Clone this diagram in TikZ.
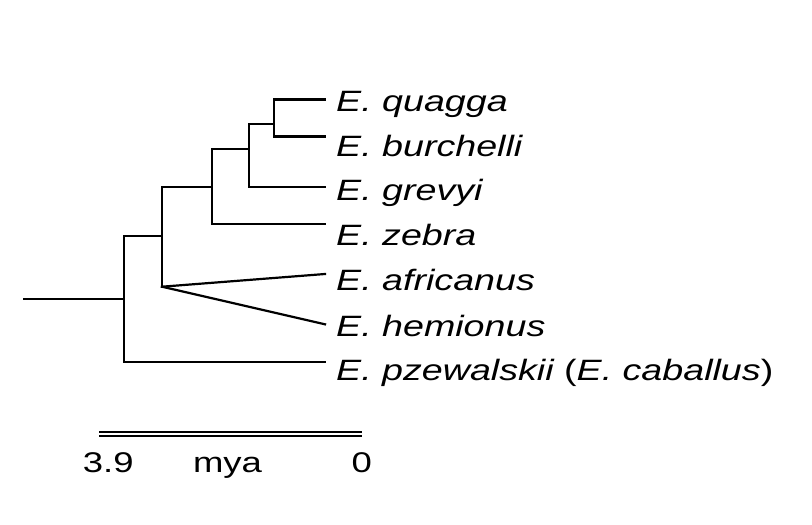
\documentclass[tikz,border=0pt]{standalone}
\usepackage{fontspec}
\setmainfont{Liberation Sans}[FakeStretch=1.28]
\begin{document}
\begin{tikzpicture}[x=1pt,y=-1pt,
  branch/.style={line width=2.2pt,line cap=rect,line join=miter},
  scalebar/.style={line width=1.8pt},
  taxon/.style={anchor=base west,inner sep=0pt,font=\fontsize{29.4}{34}\selectfont\itshape},
  scalelbl/.style={anchor=base,inner sep=0pt,font=\fontsize{28.5}{34}\selectfont}]
\useasboundingbox (0,0) rectangle (812,525);
% tree nodes
\coordinate (root) at (24,299.3);
\coordinate (n1) at (124,299.3);
\coordinate (n2) at (162,236.3);
\coordinate (apex) at (162,286.7);
\coordinate (n3) at (212,187);
\coordinate (n4) at (249,149.3);
\coordinate (n5) at (274,124);
% tips
\coordinate (tqua) at (325,99.5);
\coordinate (tbur) at (325,136.5);
\coordinate (tgre) at (325,186.7);
\coordinate (tzeb) at (325,224.3);
\coordinate (tafr) at (325,274);
\coordinate (thei) at (325,324.3);
\coordinate (tpze) at (325,362);
% branches
\draw[branch] (root) -- (n1);
\draw[branch] (n2) -| (n1) |- (tpze);
\draw[branch] (n3) -| (apex);
\draw[branch] (apex) -- (tafr);
\draw[branch] (apex) -- (thei);
\draw[branch] (n4) -| (n3) |- (tzeb);
\draw[branch] (n5) -| (n4) |- (tgre);
\draw[branch] (tqua) -| (n5) |- (tbur);
% labels
\node[taxon] (lqua) at (336,111.7) {E. quagga};
\node[taxon] (lbur) at (336,156) {E. burchelli};
\node[taxon] (lgre) at (336,200.7) {E. grevyi};
\node[taxon] (lzeb) at (336,245.7) {E. zebra};
\node[taxon] (lafr) at (336,290.7) {E. africanus};
\node[taxon] (lhem) at (336,336) {E. hemionus};
\node[taxon] (lpze) at (336,380) {E. pzewalskii {\upshape(}E. caballus{\upshape)}};
% scale bar
\coordinate (sbl1) at (99,432);
\coordinate (sbr1) at (361.7,432);
\coordinate (sbl2) at (99,435.8);
\coordinate (sbr2) at (361.7,435.8);
\draw[scalebar] (sbl1) -- (sbr1);
\draw[scalebar] (sbl2) -- (sbr2);
\node[scalelbl] (s39) at (108.3,472.3) {3.9};
\node[scalelbl] (smya) at (227.5,472.3) {mya};
\node[scalelbl] (s0) at (361.7,472.3) {0};
\end{tikzpicture}
\end{document}
